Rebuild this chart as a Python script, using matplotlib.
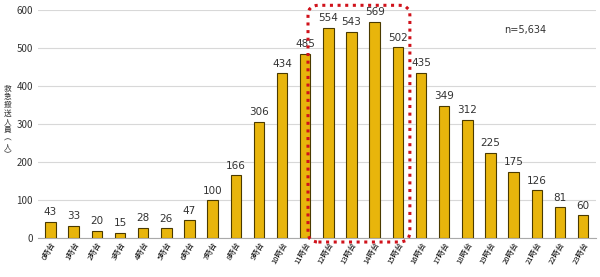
import numpy as np
import matplotlib.pyplot as plt
from matplotlib.patches import FancyBboxPatch

plt.rcParams['font.family'] = ['Noto Sans CJK JP', 'DejaVu Sans']

hours = [f'{h}時台' for h in range(24)]
counts = [43, 33, 20, 15, 28, 26, 47, 100, 166, 306, 434, 485,
          554, 543, 569, 502, 435, 349, 312, 225, 175, 126, 81, 60]

fig = plt.figure(figsize=(6, 2.77), dpi=100)
ax = fig.add_axes([0.063, 0.14, 0.93, 0.823])

x = np.arange(len(counts))
ax.bar(x, counts, width=0.45, color='#E8B50C', edgecolor='#4a3a00', linewidth=0.8, zorder=3)

for xi, c in zip(x, counts):
    ax.text(xi, c + 12, str(c), ha='center', va='bottom', fontsize=7.5, color='#333333',
            family='DejaVu Sans')

ax.set_xlim(-0.55, 23.55)
ax.set_ylim(0, 600)
ax.set_yticks(range(0, 601, 100))
ax.tick_params(axis='y', labelsize=7, length=0, colors='#333333')
ax.set_xticks(x)
ax.set_xticklabels(hours, rotation=60, ha='right', rotation_mode='anchor', fontsize=5.5)
ax.tick_params(axis='x', length=0, pad=2)
ax.grid(axis='y', color='#d8d8d8', linewidth=0.8, zorder=0)
for s in ['top', 'right', 'left']:
    ax.spines[s].set_visible(False)
ax.spines['bottom'].set_color('#aaaaaa')

# vertical y label
fig.text(0.012, 0.56, '救\n急\n搬\n送\n人\n員\n︵\n人\n︶', fontsize=5.5, ha='center', va='center',
         linespacing=1.05, color='#333333')

ax.text(0.835, 0.9, 'n=5,634', transform=ax.transAxes, fontsize=7, color='#333333',
        family='DejaVu Sans')

# red dotted box around 12-15時台
box = FancyBboxPatch((11.12, -10), 4.4, 623, boxstyle='round,pad=0,rounding_size=0.45',
                     fill=False, edgecolor='#d0121b', linestyle=(0, (1, 1.5)), linewidth=2.2,
                     clip_on=False, zorder=5, mutation_aspect=58)
ax.add_patch(box)

fig.savefig('out.png', dpi=100)
